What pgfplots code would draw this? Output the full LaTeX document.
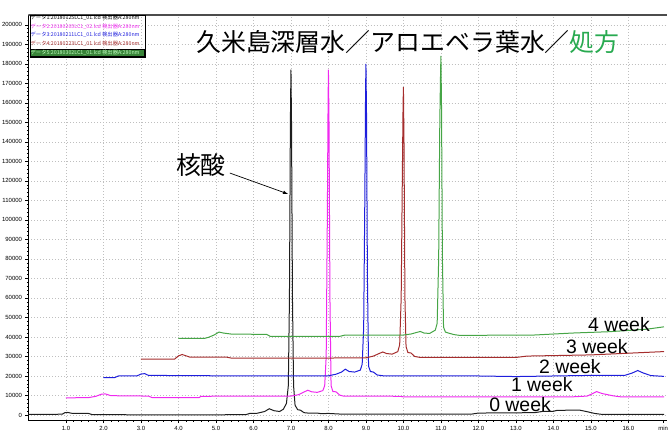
\documentclass[border=0pt]{standalone}
\usepackage{pgfplots}
\pgfplotsset{compat=1.18}
\usepackage{fontspec}
\setmainfont{Liberation Sans}
\newfontfamily\jp{Noto Sans CJK JP}
\definecolor{tr0}{RGB}{30,30,30}
\definecolor{tr1}{RGB}{240,40,240}
\definecolor{tr2}{RGB}{30,30,220}
\definecolor{tr3}{RGB}{165,45,45}
\definecolor{tr4}{RGB}{70,165,70}
\definecolor{ttlgreen}{RGB}{40,170,80}
\begin{document}
\begin{tikzpicture}
\begin{axis}[
  scale only axis, width=638.5bp, height=405bp,
  xmin=0, xmax=17.03, ymin=-2560, ymax=205000,
  axis x line*=bottom, axis y line*=left,
  xtick={1,2,...,16}, minor x tick num=4,
  ytick={0,10000,...,200000}, minor y tick num=4,
  scaled y ticks=false,
  xticklabel style={/pgf/number format/.cd,fixed,fixed zerofill,precision=1},
  yticklabel style={/pgf/number format/.cd,fixed,1000 sep={}},
  /pgf/number format/assume math mode=true,
  extra x ticks={16.93}, extra x tick labels={min},
  extra x tick style={grid=none},
  grid=major, major grid style={gray!50, dash pattern=on 1bp off 2bp},
  tick align=outside, major tick length=3bp, minor tick length=1.5bp,
  tick label style={font=\fontsize{6}{7}\selectfont},
  every tick/.style={black},
  axis line style={black, line width=0.8bp},
  every axis plot/.append style={line width=1bp},
]
\addplot[tr0] coordinates {(0.0,300) (0.9,400) (0.97,1200) (1.05,1300) (1.15,900) (1.6,800) (1.7,200) (3,100) (5,100) (5.8,200) (5.9,800) (6.1,900) (6.3,1800) (6.42,3200) (6.55,2200) (6.7,1800) (6.8,3000) (6.88,6000) (6.93,15000) (6.96,60000) (6.985,150000) (7.0,177000) (7.015,150000) (7.04,60000) (7.07,15000) (7.11,5000) (7.18,2700) (7.25,2500) (7.35,1200) (7.5,900) (7.7,1000) (7.8,700) (8.0,800) (8.3,500) (9,400) (11.8,400) (12.0,1000) (13.5,1200) (13.7,1800) (14.0,1900) (14.1,2400) (14.7,2500) (14.9,1700) (15.1,800) (15.3,300) (16.95,300)};
\addplot[tr1] coordinates {(1.0,8800) (1.6,8900) (1.8,9600) (1.95,10700) (2.05,10800) (2.2,9900) (3.2,9700) (3.3,8900) (4.55,8900) (4.6,9600) (7.0,9700) (7.2,10400) (7.35,11800) (7.45,12700) (7.55,11900) (7.7,11600) (7.85,12500) (7.9,15000) (7.94,30000) (7.97,100000) (7.99,160000) (8.0,177000) (8.015,150000) (8.04,60000) (8.07,15000) (8.12,12000) (8.2,11900) (8.3,10200) (8.4,9700) (9.9,9600) (10.0,9300) (14.5,9300) (14.9,9700) (15.05,11000) (15.15,12000) (15.3,11000) (15.6,9800) (15.8,9300) (16.95,9300)};
\addplot[tr2] coordinates {(2.0,19200) (2.3,19200) (2.4,20000) (2.9,20100) (3.0,21000) (3.1,21200) (3.2,20300) (5.0,20100) (7.0,20000) (8.0,20100) (8.2,20900) (8.35,22000) (8.45,23500) (8.55,22300) (8.7,22000) (8.85,23000) (8.9,26000) (8.94,45000) (8.97,110000) (8.99,165000) (9.0,180000) (9.015,155000) (9.04,70000) (9.07,25000) (9.12,22300) (9.2,22000) (9.3,20500) (9.5,20000) (12,20000) (13,19700) (15,20300) (15.9,20300) (16.1,21500) (16.25,22800) (16.4,21500) (16.6,20200) (16.95,19800)};
\addplot[tr3] coordinates {(3.0,28700) (3.9,28700) (4.0,30300) (4.1,31000) (4.3,29700) (5.3,29600) (5.4,29200) (8.0,29200) (9.0,29300) (9.2,30200) (9.35,31500) (9.45,32300) (9.55,31500) (9.7,31200) (9.85,32500) (9.9,36000) (9.94,60000) (9.97,120000) (9.99,158000) (10.0,168000) (10.015,140000) (10.04,60000) (10.07,35000) (10.12,32000) (10.2,31800) (10.3,30000) (10.45,29500) (13,29500) (13.3,30200) (15,30800) (16.95,32500)};
\addplot[tr4] coordinates {(4.0,39300) (4.7,39300) (4.8,39800) (4.95,41000) (5.08,42500) (5.2,42000) (5.4,41500) (6.35,41300) (6.45,40300) (8.3,40300) (8.45,41000) (10.0,41000) (10.2,41500) (10.35,42300) (10.45,42800) (10.55,42000) (10.7,41800) (10.85,43500) (10.9,47000) (10.94,80000) (10.97,150000) (10.99,175000) (11.0,184000) (11.015,160000) (11.04,80000) (11.07,45000) (11.12,42500) (11.2,42000) (11.35,41200) (11.5,40800) (13.5,41000) (14.5,42000) (15.5,42700) (16.5,44000) (16.95,45200)};
\draw[gray!60!black, line width=1.2bp] (rel axis cs:0,1) -- (rel axis cs:1,1);
\node[anchor=south west, font=\fontsize{6}{7}\selectfont, inner sep=0pt] at ([shift={(-2bp,3bp)}]rel axis cs:0,1) {uV};
% legend box
\draw[black, line width=0.4bp] ([shift={(1.5bp,-0.5bp)}]rel axis cs:0,1) rectangle ([shift={(117bp,-42bp)}]rel axis cs:0,1);
\fill[tr4!80!black] ([shift={(2bp,-34bp)}]rel axis cs:0,1) rectangle ([shift={(116bp,-41bp)}]rel axis cs:0,1);
\draw[black, line width=0.5bp] ([shift={(2bp,-34bp)}]rel axis cs:0,1) rectangle ([shift={(116bp,-41bp)}]rel axis cs:0,1);
\node[anchor=west, inner sep=0pt, font=\jp\fontsize{5.3}{5.3}\selectfont, text=black] at ([shift={(2bp,-3bp)}]rel axis cs:0,1) {データ1:20180125LC1\_01.lcd 検出器A:280nm};
\node[anchor=west, inner sep=0pt, font=\jp\fontsize{5.3}{5.3}\selectfont, text=tr1] at ([shift={(2bp,-11.5bp)}]rel axis cs:0,1) {データ2:20180205LC1\_02.lcd 検出器A:280nm};
\node[anchor=west, inner sep=0pt, font=\jp\fontsize{5.3}{5.3}\selectfont, text=tr2] at ([shift={(2bp,-20bp)}]rel axis cs:0,1) {データ3:20180211LC1\_01.lcd 検出器A:280nm};
\node[anchor=west, inner sep=0pt, font=\jp\fontsize{5.3}{5.3}\selectfont, text=tr3] at ([shift={(2bp,-28.5bp)}]rel axis cs:0,1) {データ4:20180223LC1\_01.lcd 検出器A:280nm};
\node[anchor=west, inner sep=0pt, font=\jp\fontsize{5.3}{5.3}\selectfont, text=green!25!white] at ([shift={(2bp,-37.5bp)}]rel axis cs:0,1) {データ5:20180302LC1\_01.lcd 検出器A:280nm};
% title and annotations
\node[font=\jp\fontsize{25}{25}\selectfont, inner sep=0pt] at (axis cs:10.12,191300) {久米島深層水／アロエベラ葉水／\textcolor{ttlgreen}{処方}};
\node[font=\jp\fontsize{25}{25}\selectfont, inner sep=0pt] at (axis cs:4.6,128200) {核酸};
\draw[-latex, black, line width=0.7bp] (axis cs:5.37,124000) -- (axis cs:6.92,113300);
\node[font=\fontsize{19.5}{20}\selectfont, inner sep=0pt] at (axis cs:15.75,46150) {4 week};
\node[font=\fontsize{19.5}{20}\selectfont, inner sep=0pt] at (axis cs:15.16,34900) {3 week};
\node[font=\fontsize{19.5}{20}\selectfont, inner sep=0pt] at (axis cs:14.44,24600) {2 week};
\node[font=\fontsize{19.5}{20}\selectfont, inner sep=0pt] at (axis cs:13.69,15400) {1 week};
\node[font=\fontsize{19.5}{20}\selectfont, inner sep=0pt] at (axis cs:13.11,5100) {0 week};
\coordinate (SW) at (rel axis cs:0,0);
\coordinate (NE) at (rel axis cs:1,1);
\end{axis}
\pgfresetboundingbox
\path[use as bounding box] ([shift={(-28.5bp,-18bp)}]SW) rectangle ([shift={(1bp,15bp)}]NE);
\end{tikzpicture}
\end{document}
